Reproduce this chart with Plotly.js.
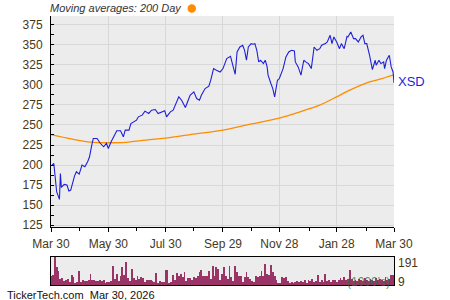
<!DOCTYPE html>
<html>
<head>
<meta charset="utf-8">
<script src="https://cdn.plot.ly/plotly-3.0.1.min.js"></script>
<style>
html,body{margin:0;padding:0;background:#fff;}
#chart{width:450px;height:300px;}
</style>
</head>
<body>
<div id="chart"></div>
<script>
// ---------- DATA ----------
const symbol = 'XSD';
const priceDates = ['2025-03-31','2025-04-02','2025-04-05','2025-04-08','2025-04-09','2025-04-10','2025-04-13','2025-04-16','2025-04-18','2025-04-20','2025-04-24','2025-04-26','2025-04-29','2025-05-02','2025-05-05','2025-05-08','2025-05-10','2025-05-11','2025-05-12','2025-05-14','2025-05-18','2025-05-21','2025-05-25','2025-05-28','2025-05-30','2025-06-02','2025-06-05','2025-06-08','2025-06-12','2025-06-15','2025-06-17','2025-06-21','2025-06-23','2025-06-26','2025-06-29','2025-07-01','2025-07-05','2025-07-08','2025-07-12','2025-07-15','2025-07-19','2025-07-22','2025-07-26','2025-07-29','2025-07-31','2025-08-04','2025-08-07','2025-08-13','2025-08-16','2025-08-20','2025-08-23','2025-08-25','2025-08-29','2025-09-01','2025-09-04','2025-09-06','2025-09-10','2025-09-14','2025-09-16','2025-09-19','2025-09-22','2025-09-26','2025-09-29','2025-10-03','2025-10-07','2025-10-09','2025-10-12','2025-10-14','2025-10-17','2025-10-20','2025-10-22','2025-10-24','2025-10-26','2025-10-29','2025-10-31','2025-11-02','2025-11-04','2025-11-06','2025-11-08','2025-11-11','2025-11-13','2025-11-15','2025-11-16','2025-11-19','2025-11-21','2025-11-23','2025-11-26','2025-11-28','2025-12-01','2025-12-02','2025-12-05','2025-12-08','2025-12-11','2025-12-14','2025-12-15','2025-12-18','2025-12-21','2025-12-24','2025-12-26','2025-12-29','2026-01-01','2026-01-04','2026-01-07','2026-01-10','2026-01-12','2026-01-16','2026-01-18','2026-01-21','2026-01-23','2026-01-25','2026-01-28','2026-01-31','2026-02-02','2026-02-05','2026-02-08','2026-02-09','2026-02-12','2026-02-15','2026-02-17','2026-02-20','2026-02-23','2026-02-25','2026-02-27','2026-03-01','2026-03-04','2026-03-05','2026-03-07','2026-03-10','2026-03-11','2026-03-14','2026-03-16','2026-03-19','2026-03-20','2026-03-22','2026-03-25','2026-03-27','2026-03-29','2026-03-30'];
const priceValues = [200,202,166.8,157.3,189.6,172.2,176,175.2,167.7,168.9,186.3,191.7,188.8,200,197.9,204.1,210.3,218.7,222.8,233.2,233.2,227.8,222.8,227,220.7,229,235.2,242.7,242.7,235.2,243.5,243.5,251.8,253.9,256,260.1,262.2,267.2,264.3,268.4,269.2,264.3,266.3,267.6,260.1,266.3,268.4,285,280.8,271.7,280.8,287,291.2,282.9,280.8,287,295.3,298.2,305.7,320.2,318.1,316,320.2,332.6,335.5,326.4,313.1,340.9,347.1,349.2,343,330.6,347.1,351.3,350.5,351.3,343,328.5,330.6,326.4,330.6,322.3,312,301.6,295.3,285,305.7,307.8,318.1,320.2,334.7,340.9,343,342.2,328.5,322.3,312,330.6,328.5,326.4,320.2,347.1,343,345,349.2,351.3,353.4,361.7,351.3,359.6,353.4,345,351.3,345,360.4,359.6,365.8,357.5,357.5,353.4,359.6,361.7,351.3,351.3,336.8,330.6,319,330.6,324.4,330.6,326.4,328.5,320.2,330.6,336.8,322.3,316,302.3];

const maDates = ['2025-03-30','2025-04-19','2025-05-11','2025-05-30','2025-06-17','2025-07-08','2025-08-01','2025-08-25','2025-09-29','2025-10-28','2025-11-28','2025-12-20','2026-01-10','2026-01-28','2026-02-11','2026-03-01','2026-03-15','2026-03-30'];
const maValues = [238,233,228.5,227.8,228.2,231,234,238,243.5,251,258.5,266.3,274.6,285,293.3,302.4,307,312.5];

// volume in thousands, one bar per two calendar days from volStart
const volStart = '2025-03-30';
const volStepDays = 2;
const volValues = [64,69,191,122,99,41,46,30,37,41,23,69,53,14,23,99,23,37,30,25,37,76,37,37,30,25,37,30,37,14,18,23,30,133,41,76,30,60,122,69,161,46,30,110,46,37,64,
41,53,46,23,37,37,37,25,18,83,14,30,18,23,106,106,14,18,69,37,83,60,76,53,87,30,46,46,37,53,46,64,92,106,64,64,60,99,41,133,60,122,110,37,76,
122,60,41,133,53,30,129,92,60,64,23,53,92,53,41,30,23,60,53,64,99,60,145,76,69,138,92,60,37,14,14,53,46,53,30,14,23,14,23,30,18,30,18,37,14,37,
30,41,18,30,69,23,37,18,76,30,37,23,37,37,23,37,46,37,53,37,41,106,41,30,37,30,41,37,30,46,37,30,41,37,30,46,37,41,37,30,53,37,41,69,69];
const volMaxLabel = '191';
const volMinLabel = '9';

const xRange = ['2025-03-30','2026-03-30'];
const tickDates = ['2025-03-30','2025-05-30','2025-07-30','2025-09-29','2025-11-28','2026-01-28','2026-03-30'];
const tickLabels = ['Mar 30','May 30','Jul 30','Sep 29','Nov 28','Jan 28','Mar 30'];
const minorTickDates = ['2025-04-29','2025-06-29','2025-08-29','2025-10-29','2025-12-30','2026-03-01'];
const yTickVals = [125,150,175,200,225,250,275,300,325,350,375];

const titleText = 'Moving averages: 200 Day';
const footerText = 'TickerTech.com  Mar 30, 2026';

// ---------- BUILD ----------
const DAY = 86400000;
const t0 = new Date(volStart + 'T00:00:00Z').getTime();
const volDates = volValues.map((_, i) => new Date(t0 + i * volStepDays * DAY).toISOString().slice(0, 10));

const W = 450, H = 300;
const mL = 51, mR = 56, mT = 16, mB = 15;
const pw = W - mL - mR, ph = H - mT - mB;
const px = x => (x - mL) / pw;          // pixel -> paper x
const py = y => (H - mB - y) / ph;      // pixel -> paper y

const FONT = 'Liberation Sans, Arial, sans-serif';
const LBL = '#463818';

const traces = [
  {x: maDates, y: maValues, type: 'scatter', mode: 'lines', line: {color: '#ff8c00', width: 1.3, shape: 'spline', smoothing: 0.6}, xaxis: 'x', yaxis: 'y', hoverinfo: 'skip'},
  {x: priceDates, y: priceValues, type: 'scatter', mode: 'lines', line: {color: '#1f1fd8', width: 1.1}, xaxis: 'x', yaxis: 'y', hoverinfo: 'skip'},
  {x: volDates, y: volValues, type: 'bar', marker: {color: '#9b3466', line: {width: 0}}, width: volStepDays * DAY, xaxis: 'x2', yaxis: 'y2', hoverinfo: 'skip'}
];

const layout = {
  width: W, height: H,
  margin: {l: mL, r: mR, t: mT, b: mB, pad: 0},
  paper_bgcolor: '#ffffff',
  plot_bgcolor: '#ececec',
  showlegend: false,
  font: {family: FONT, size: 12, color: LBL},
  bargap: 0,
  title: {
    text: titleText, xref: 'container', yref: 'container',
    x: 50 / W, xanchor: 'left', y: 1 - 8.5 / H, yanchor: 'middle',
    font: {family: FONT, size: 11, color: '#333333', style: 'italic'}
  },
  xaxis: {
    type: 'date', range: xRange, domain: [0, 1], anchor: 'y',
    tickmode: 'array', tickvals: tickDates, ticktext: tickLabels,
    ticks: 'outside', ticklen: 4, tickcolor: '#000', tickwidth: 1,
    showline: true, linecolor: '#000', linewidth: 1,
    showgrid: true, gridcolor: '#d8d8d8', gridwidth: 1,
    zeroline: false, ticklabelstandoff: 1,
    tickfont: {family: FONT, size: 12, color: LBL},
    minor: {tickmode: 'array', tickvals: minorTickDates, ticks: 'outside', ticklen: 3, tickcolor: '#000', showgrid: false}
  },
  yaxis: {
    range: [122.5, 385.7], domain: [py(227.3), 1], anchor: 'x',
    tickmode: 'array', tickvals: yTickVals,
    ticks: 'inside', ticklen: 3, tickcolor: '#000',
    showline: true, linecolor: '#000', linewidth: 1,
    showgrid: true, gridcolor: '#d8d8d8', gridwidth: 1,
    zeroline: false, ticklabelstandoff: 5,
    tickfont: {family: FONT, size: 12, color: LBL},
    minor: {dtick: 12.5, ticks: 'inside', ticklen: 3, tickcolor: '#000', showgrid: false}
  },
  xaxis2: {
    type: 'date', range: xRange, domain: [0, 1], anchor: 'y2',
    showticklabels: false, ticks: '', showgrid: false, zeroline: false,
    showline: true, mirror: true, linecolor: '#000', linewidth: 1
  },
  yaxis2: {
    range: [0, 195], domain: [0, py(256.7)], anchor: 'x2',
    showticklabels: false, ticks: '', showgrid: false, zeroline: false,
    showline: true, mirror: true, linecolor: '#000', linewidth: 1
  },
  shapes: [
    {type: 'circle', xref: 'paper', yref: 'paper', x0: px(187.5), x1: px(196), y0: py(12.8), y1: py(4.3), fillcolor: '#ff8c00', line: {width: 0}}
  ],
  annotations: [
    {text: symbol, xref: 'paper', yref: 'y', x: 1, y: priceValues[priceValues.length - 1], xanchor: 'left', yanchor: 'middle', xshift: 2, yshift: 1, showarrow: false, font: {family: FONT, size: 13, color: '#1f1fd8'}},
    {text: volMaxLabel, xref: 'paper', yref: 'paper', x: 1, y: py(263.3), xanchor: 'left', yanchor: 'middle', xshift: 2, showarrow: false, font: {family: FONT, size: 12, color: LBL}},
    {text: volMinLabel, xref: 'paper', yref: 'paper', x: 1, y: py(281.7), xanchor: 'left', yanchor: 'middle', xshift: 2, showarrow: false, font: {family: FONT, size: 12, color: LBL}},
    {text: "(1000's)", xref: 'paper', yref: 'paper', x: px(392), y: py(281.5), xanchor: 'right', yanchor: 'middle', showarrow: false, font: {family: FONT, size: 12, color: 'rgba(40,110,70,0.75)'}},
    {text: footerText, xref: 'paper', yref: 'paper', x: px(5), y: py(294.5), xanchor: 'left', yanchor: 'middle', showarrow: false, font: {family: FONT, size: 11, color: '#111111'}}
  ]
};

Plotly.newPlot('chart', traces, layout, {staticPlot: true, displayModeBar: false});
</script>
</body>
</html>
